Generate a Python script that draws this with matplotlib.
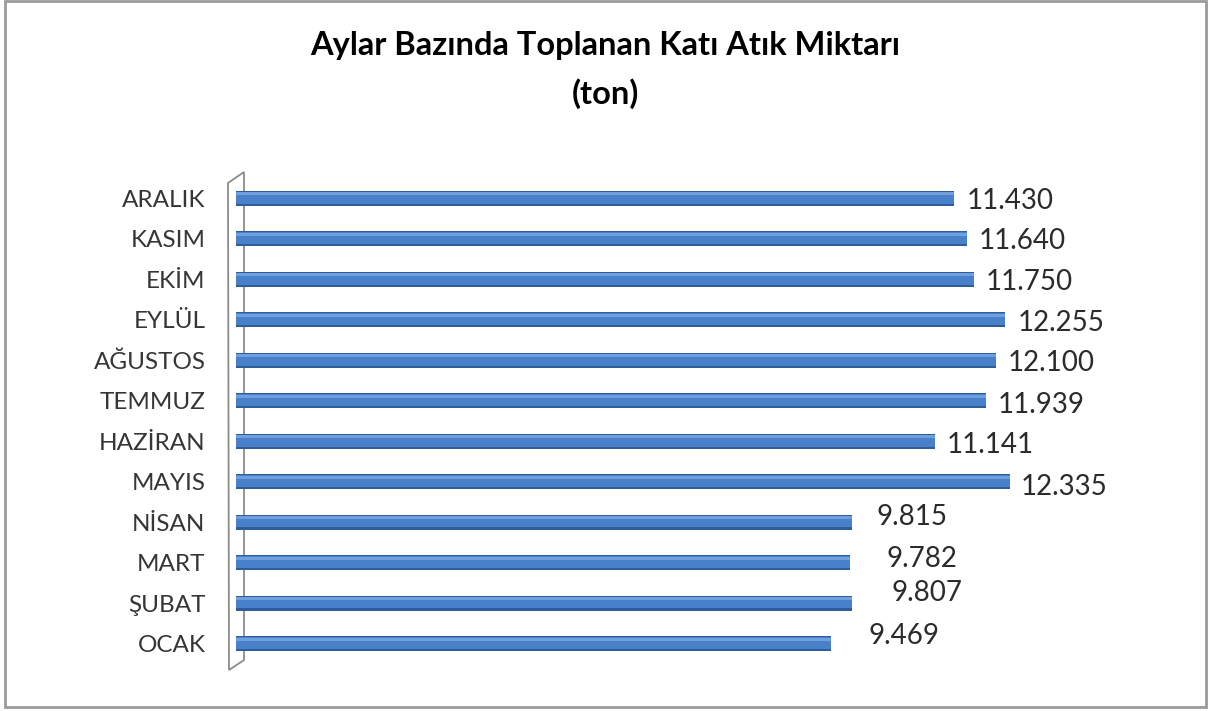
import numpy as np
import matplotlib.pyplot as plt
from matplotlib.patches import Polygon, Rectangle

plt.rcParams['font.family'] = ['Lato', 'DejaVu Sans']

# data, bottom to top as in the chart
months = ['OCAK', 'ŞUBAT', 'MART', 'NİSAN', 'MAYIS', 'HAZİRAN',
          'TEMMUZ', 'AĞUSTOS', 'EYLÜL', 'EKİM', 'KASIM', 'ARALIK']
values = [9.469, 9.807, 9.782, 9.815, 12.335, 11.141,
          11.939, 12.100, 12.255, 11.750, 11.640, 11.430]
value_labels = ['9.469', '9.807', '9.782', '9.815', '12.335', '11.141',
                '11.939', '12.100', '12.255', '11.750', '11.640', '11.430']

# label offsets from the bar end (pixels, x right / y up)
label_offsets = [(38, 8), (40, 10), (36, 4), (24, 5), (10, -5), (11, -4),
                 (12, -4), (12, -3), (12, -3), (12, -3), (12, -2), (13, -3)]

W, H = 1211, 711
fig = plt.figure(figsize=(W / 100, H / 100), dpi=100)
ax = fig.add_axes([236 / W, 1 - 668 / H, 879 / W, (668 - 174) / H])
ax.set_facecolor('none')

y = np.arange(len(months))

# cylinder-like bars: dark rim, main blue, light highlight on top
ax.barh(y, values, height=0.36, color='#2e5d9b', zorder=2)
ax.barh(y + 0.015, values, height=0.29, color='#4880ca', zorder=3)
ax.barh(y + 0.11, values, height=0.07, color='#6f9fdf', zorder=4)

for yi, v, lab, off in zip(y, values, value_labels, label_offsets):
    ax.annotate(lab, (v, yi), xytext=(off[0] * 0.72, off[1] * 0.72),
                textcoords='offset points', ha='left', va='center',
                fontsize=20, color='#2b2b2b')

ax.set_xlim(0, 14)
ax.set_ylim(-0.6, len(months) - 0.4)
ax.set_yticks(y)
ax.set_yticklabels(months, fontsize=17.5, color='#363636')
ax.tick_params(axis='y', length=0, pad=22)
ax.set_xticks([])
for s in ax.spines.values():
    s.set_visible(False)

# 3d wall on the left
wall = [(228, 183), (244, 172), (244, 660), (229, 670)]
wall = [(px / W, 1 - py / H) for px, py in wall]
ax.add_patch(Polygon(wall, closed=True, facecolor='white', edgecolor='#8c8c8c',
                     lw=1.3, transform=fig.transFigure, clip_on=False, zorder=1))

fig.text(605 / W, 1 - 46 / H, 'Aylar Bazında Toplanan Katı Atık Miktarı',
         ha='center', va='center', fontsize=23.5, fontweight='bold')
fig.text(605 / W, 1 - 94 / H, '(ton)',
         ha='center', va='center', fontsize=23.5, fontweight='bold')

fig.patches.append(Rectangle((5 / W, 1 - 707 / H), 1201 / W, 706 / H,
                             fill=False, edgecolor='#9a9a9a', lw=2,
                             transform=fig.transFigure))

fig.savefig('out.png', dpi=100)
